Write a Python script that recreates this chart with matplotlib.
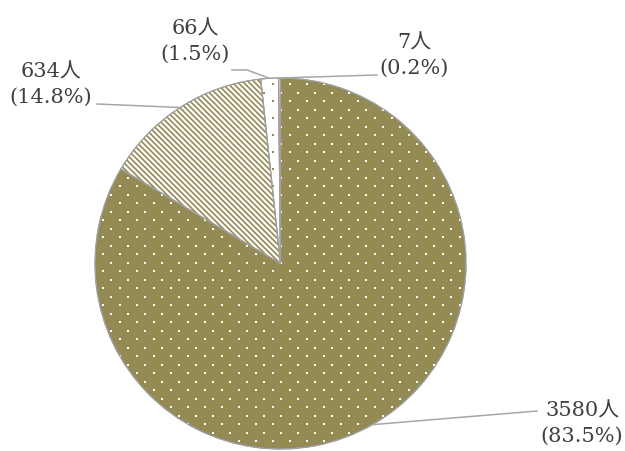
import numpy as np
import matplotlib
matplotlib.use("Agg")
import matplotlib.pyplot as plt
from matplotlib.patches import Wedge

# data
counts = [3580, 634, 66, 7]
unit = "人"

OLIVE = "#948a54"
EDGE = "#a0a0a0"
TXT = "#404040"

plt.rcParams['hatch.linewidth'] = 1.2

W, H = 625, 452
fig = plt.figure(figsize=(W / 100, H / 100), dpi=100)
ax = fig.add_axes([0, 0, 1, 1])

# pixel layout of the pie
cx, cy, R = 280.5, 264.5, 185.5
def px(x, y):
    return ((x - cx) / R, (cy - y) / R)

total = sum(counts)
pcts = [c / total * 100 for c in counts]

wedges, _ = ax.pie(counts, startangle=90, counterclock=False, radius=1,
                   colors=[OLIVE, "white", "white", "white"],
                   wedgeprops=dict(edgecolor=EDGE, linewidth=0.8))
ax.set_xlim(-cx / R, (W - cx) / R)
ax.set_ylim((cy - H) / R, cy / R)
ax.set_aspect("auto")
ax.axis("off")

# dotted texture (staggered lattice), clipped to wedges
sx, sy = 17 / R, 8.5 / R
pts = []
for j, yy in enumerate(np.arange(-1.05, 1.06, sy)):
    off = 0 if j % 2 == 0 else sx / 2
    for xx in np.arange(-1.05 + off, 1.06, sx):
        pts.append((xx, yy))
pts = np.array(pts)

dots = ax.scatter(pts[:, 0], pts[:, 1], s=2.2, marker="s", c="white",
                  linewidths=0, zorder=3)
dots.set_clip_path(wedges[0])
for k in (2, 3):
    d = ax.scatter(pts[:, 0], pts[:, 1], s=2.2, marker="s", c=OLIVE,
                   linewidths=0, zorder=3)
    d.set_clip_path(wedges[k])

# diagonal hatch for the 634 slice
w = wedges[1]
hw = Wedge(w.center, w.r, w.theta1, w.theta2, facecolor="none",
           edgecolor=OLIVE, linewidth=0, hatch="\\\\\\\\\\\\", zorder=2)
ax.add_patch(hw)

# outline again on top
for w in wedges:
    ax.add_patch(Wedge(w.center, w.r, w.theta1, w.theta2, facecolor="none",
                       edgecolor=EDGE, linewidth=0.8, zorder=4))

# labels
lab_pos = [(582, 424), (51, 85), (195, 42), (414, 56)]
lines = [
    [(537, 412)],
    [(97, 105)],
    [(247, 71), (232, 71)],
    [(377, 76)],
]
for i, w in enumerate(wedges):
    mid = np.deg2rad((w.theta1 + w.theta2) / 2)
    x0, y0 = np.cos(mid), np.sin(mid)
    xs = [x0] + [px(*p)[0] for p in lines[i]]
    ys = [y0] + [px(*p)[1] for p in lines[i]]
    ax.plot(xs, ys, color="#a6a6a6", lw=1.1, zorder=5)
    tx, ty = px(*lab_pos[i])
    ax.text(tx, ty, f"{counts[i]}{unit}\n({pcts[i]:.1f}%)", ha="center",
            va="center", fontsize=15, color=TXT, linespacing=1.4,
            family=["DejaVu Serif", "Noto Sans CJK JP"])

fig.savefig("out.png", dpi=100)
